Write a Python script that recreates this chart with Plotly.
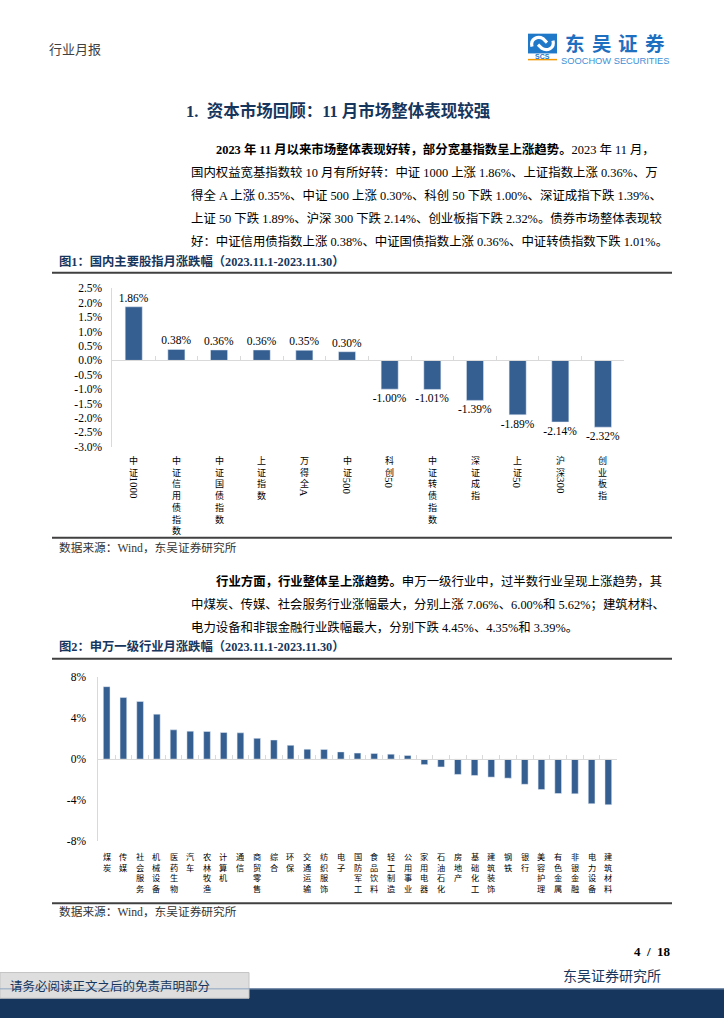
import re
import plotly.graph_objects as go

W, H = 724, 1024

# ---------------- data ----------------
idx_names = ["中证1000", "中证信用债指数", "中证国债指数", "上证指数", "万得全A", "中证500",
             "科创50", "中证转债指数", "深证成指", "上证50", "沪深300", "创业板指"]
idx_chg = [1.86, 0.38, 0.36, 0.36, 0.35, 0.30, -1.00, -1.01, -1.39, -1.89, -2.14, -2.32]
y1_tickvals = [2.5, 2.0, 1.5, 1.0, 0.5, 0.0, -0.5, -1.0, -1.5, -2.0, -2.5, -3.0]
y1_ticktext = ["2.5%", "2.0%", "1.5%", "1.0%", "0.5%", "0.0%", "-0.5%", "-1.0%",
               "-1.5%", "-2.0%", "-2.5%", "-3.0%"]

ind_names = ["煤炭", "传媒", "社会服务", "机械设备", "医药生物", "汽车", "农林牧渔", "计算机",
             "通信", "商贸零售", "综合", "环保", "交通运输", "纺织服饰", "电子", "国防军工",
             "食品饮料", "轻工制造", "公用事业", "家用电器", "石油石化", "房地产", "基础化工",
             "建筑装饰", "钢铁", "银行", "美容护理", "有色金属", "非银金融", "电力设备", "建筑材料"]
ind_chg = [7.06, 6.00, 5.62, 4.38, 2.85, 2.72, 2.69, 2.59, 2.56, 2.02, 1.86, 1.34, 0.96, 0.94,
           0.70, 0.58, 0.54, 0.48, 0.35, -0.54, -0.77, -1.50, -1.60, -1.76, -1.86, -2.46,
           -2.97, -3.36, -3.39, -4.35, -4.45]
y2_tickvals = [8, 4, 0, -4, -8]
y2_ticktext = ["8%", "4%", "0%", "-4%", "-8%"]

# ---------------- styles ----------------
SERIF = "Liberation Serif, Noto Sans CJK SC, serif"
CJK = "Noto Sans CJK SC, sans-serif"
NAVY = "#17365D"
BAR = "#365F91"
AXC = "#d9d9d9"


def px(x):
    return x / W


def py(y):
    return 1 - y / H


anns = []
shapes = []


def T(x, y, s, size=13, color="#000000", xanchor="left", family=SERIF):
    anns.append(dict(x=px(x), y=py(y), xref="paper", yref="paper", text=s, showarrow=False,
                     xanchor=xanchor, yanchor="middle", borderpad=0,
                     font=dict(size=size, color=color, family=family)))


def hline(y, x0=52, x1=672, color="#404040", width=2):
    shapes.append(dict(type="line", xref="paper", yref="paper", x0=px(x0), x1=px(x1),
                       y0=py(y), y1=py(y), line=dict(color=color, width=width)))


def rect(x0, y0, x1, y1, fill, lc=None, lw=0):
    shapes.append(dict(type="rect", xref="paper", yref="paper", x0=px(x0), x1=px(x1),
                       y0=py(y1), y1=py(y0), fillcolor=fill,
                       line=dict(color=lc or fill, width=lw), layer="below"))


def path(cmds, color, width):
    out = []
    for c in cmds:
        if isinstance(c, str):
            out.append(c)
        else:
            out.append(f"{px(c[0]):.5f},{py(c[1]):.5f}")
    shapes.append(dict(type="path", xref="paper", yref="paper", path=" ".join(out),
                       line=dict(color=color, width=width)))


# ---------------- chart geometry ----------------
c1_x = (112.4, 624.3)
c1_y = (285.7, 446.0)
c2_x = (98.3, 616.7)
c2_y = (679.0, 845.0)
r1 = (y1_tickvals[-1], y1_tickvals[0])
r2 = (y2_tickvals[-1], y2_tickvals[0])


def zero_pos(ypx, rng):
    top, bot = ypx
    lo, hi = rng
    return py(top + (hi - 0) / (hi - lo) * (bot - top))


fig = go.Figure()

n1 = len(idx_names)
n2 = len(ind_names)
x1 = list(range(n1))
x2 = list(range(n2))

fig.add_trace(go.Bar(x=x1, y=idx_chg, xaxis="x", yaxis="y", marker_color=BAR,
                     text=[f"{v:.2f}%" for v in idx_chg], textposition="outside",
                     constraintext="none",
                     textfont=dict(family=SERIF, size=11.5, color="#000000"),
                     cliponaxis=False, hoverinfo="skip", showlegend=False))
fig.add_trace(go.Scatter(x=x1, y=[0] * n1, xaxis="x2", yaxis="y", mode="markers",
                         marker=dict(opacity=0, size=1), hoverinfo="skip", showlegend=False))
fig.add_trace(go.Bar(x=x2, y=ind_chg, xaxis="x3", yaxis="y3", marker_color=BAR,
                     hoverinfo="skip", showlegend=False))
fig.add_trace(go.Scatter(x=x2, y=[0] * n2, xaxis="x4", yaxis="y3", mode="markers",
                         marker=dict(opacity=0, size=1), hoverinfo="skip", showlegend=False))

axfont = dict(family=SERIF, size=11.5, color="#000000")

fig.update_layout(
    width=W, height=H, margin=dict(l=0, r=0, t=0, b=0),
    paper_bgcolor="white", plot_bgcolor="white", bargap=0.6,
    xaxis=dict(domain=[px(c1_x[0]), px(c1_x[1])], range=[-0.5, n1 - 0.5], anchor="y",
               showticklabels=False, showgrid=False, zeroline=False, showline=False, ticks=""),
    xaxis2=dict(domain=[px(c1_x[0]), px(c1_x[1])], range=[-0.5, n1 - 0.5], overlaying="x",
                anchor="free", position=zero_pos(c1_y, r1), showline=True, linecolor=AXC,
                linewidth=1, tickmode="array", tickvals=[i - 0.5 for i in range(n1 + 1)],
                ticks="inside", ticklen=4, tickcolor=AXC, showticklabels=False,
                showgrid=False, zeroline=False),
    yaxis=dict(domain=[py(c1_y[1]), py(c1_y[0])], range=list(r1), anchor="x",
               tickmode="array", tickvals=y1_tickvals, ticktext=y1_ticktext,
               tickfont=axfont, showgrid=False, zeroline=False, showline=True,
               linecolor=AXC, linewidth=1, ticks="", ticklabelstandoff=7),
    xaxis3=dict(domain=[px(c2_x[0]), px(c2_x[1])], range=[-0.5, n2 - 0.5], anchor="y3",
                showticklabels=False, showgrid=False, zeroline=False, showline=False, ticks=""),
    xaxis4=dict(domain=[px(c2_x[0]), px(c2_x[1])], range=[-0.5, n2 - 0.5], overlaying="x3",
                anchor="free", position=zero_pos(c2_y, r2), showline=True, linecolor=AXC,
                linewidth=1, tickmode="array", tickvals=[i - 0.5 for i in range(n2 + 1)],
                ticks="inside", ticklen=4, tickcolor=AXC, showticklabels=False,
                showgrid=False, zeroline=False),
    yaxis3=dict(domain=[py(c2_y[1]), py(c2_y[0])], range=list(r2), anchor="x3",
                tickmode="array", tickvals=y2_tickvals, ticktext=y2_ticktext,
                tickfont=axfont, showgrid=False, zeroline=False, showline=True,
                linecolor=AXC, linewidth=1, ticks="", ticklabelstandoff=9),
)


# ---------------- vertical category labels ----------------
def cat_labels(names, xref, dom_bottom_px, start, fs):
    yb = py(dom_bottom_px)
    pitch = 1.3 * fs
    for i, name in enumerate(names):
        cursor = start
        for chunk in re.findall(r"[A-Za-z0-9.]+|[^A-Za-z0-9.]+", name):
            if re.match(r"[A-Za-z0-9.]", chunk):
                L = sum(0.72 * 11 if c.isupper() else 0.5 * 11 for c in chunk)
                anns.append(dict(x=i, xref=xref, y=yb, yref="paper", text=chunk,
                                 textangle=90, showarrow=False, xanchor="center",
                                 yanchor="middle", yshift=-(cursor + L / 2 + 1), borderpad=0,
                                 font=dict(size=11, family=SERIF, color="#000000")))
                cursor += L + 2
            else:
                anns.append(dict(x=i, xref=xref, y=yb, yref="paper",
                                 text="<br>".join(chunk), showarrow=False,
                                 xanchor="center", yanchor="top", yshift=-cursor,
                                 borderpad=0,
                                 font=dict(size=fs, family=CJK, color="#000000")))
                cursor += pitch * len(chunk)


cat_labels(idx_names, "x", c1_y[1], 6, 9.0)
cat_labels(ind_names, "x3", c2_y[1], 8, 8.2)

# ---------------- header ----------------
T(48, 43, "行业月报", 13, "#404040", family=CJK)
# logo
rect(528, 28, 557, 48, "#1f78c8")
path(["M", (532, 41), "C", (530, 33), (538, 30), (543, 33), "L", (547, 37)], "white", 3.2)
path(["M", (553, 35), "C", (555, 43), (547, 46), (542, 43), "L", (538, 39)], "white", 3.2)
T(542.5, 50.8, "<b>SCS</b>", 7, "#1f78c8", "center", "Liberation Sans, sans-serif")
rect(528, 53.5, 557, 55, "#f39800")
for k, ch in enumerate("东吴证券"):
    T(575 + k * 26.5, 36.5, f"<b>{ch}</b>", 19.5, "#1f6fc0", "center", CJK)
T(615, 56, "SOOCHOW SECURITIES", 9.3, "#3d8fd6", "center", "Liberation Sans, sans-serif")

# ---------------- section title ----------------
T(185, 106, "<b>1.  资本市场回顾：11 月市场整体表现较强</b>", 16.5, NAVY)

# ---------------- paragraph 1 ----------------
p1 = [
    (215, "<b>2023 年 11 月以来市场整体表现好转，部分宽基指数呈上涨趋势。</b>2023 年 11 月，"),
    (190, "国内权益宽基指数较 10 月有所好转：中证 1000 上涨 1.86%、上证指数上涨 0.36%、万"),
    (190, "得全 A 上涨 0.35%、中证 500 上涨 0.30%、科创 50 下跌 1.00%、深证成指下跌 1.39%、"),
    (190, "上证 50 下跌 1.89%、沪深 300 下跌 2.14%、创业板指下跌 2.32%。债券市场整体表现较"),
    (190, "好：中证信用债指数上涨 0.38%、中证国债指数上涨 0.36%、中证转债指数下跌 1.01%。"),
]
for k, (x0, s) in enumerate(p1):
    T(x0, 145 + k * 23.4, s, 12.4)

# ---------------- figure 1 frame ----------------
T(58, 259, "<b>图1：国内主要股指月涨跌幅（2023.11.1-2023.11.30）</b>", 12.3, NAVY)
hline(270)
hline(538)
T(58, 548, "数据来源：Wind，东吴证券研究所", 11.7, "#333333")

# ---------------- paragraph 2 ----------------
p2 = [
    (215, "<b>行业方面，行业整体呈上涨趋势。</b>申万一级行业中，过半数行业呈现上涨趋势，其"),
    (190, "中煤炭、传媒、社会服务行业涨幅最大，分别上涨 7.06%、6.00%和 5.62%；建筑材料、"),
    (190, "电力设备和非银金融行业跌幅最大，分别下跌 4.45%、4.35%和 3.39%。"),
]
for k, (x0, s) in enumerate(p2):
    T(x0, 582 + k * 23.4, s, 12.4)

# ---------------- figure 2 frame ----------------
T(58, 648, "<b>图2：申万一级行业月涨跌幅（2023.11.1-2023.11.30）</b>", 12.3, NAVY)
hline(660.5)
hline(908)
T(58, 917, "数据来源：Wind，东吴证券研究所", 11.7, "#333333")

# ---------------- footer ----------------
T(672, 957, "<b>4  /  18</b>", 13, "#000000", "right")
T(562, 982, "东吴证券研究所", 14, NAVY)
rect(0, 994, W, H, NAVY)
hline(994.5, 0, W, "#8ea4c0", 1)
rect(0, 978, 249, 1004, "#dedede", "#c4c4c4", 1)
T(9, 991, "请务必阅读正文之后的免责声明部分", 12.5, NAVY, family=CJK)

fig.update_layout(annotations=anns, shapes=shapes)
fig.write_html("out.html", config={"displayModeBar": False},
               post_script="document.body.style.margin='0px';"
                           "document.body.style.padding='0px';"
                           "document.body.style.overflow='hidden';")
